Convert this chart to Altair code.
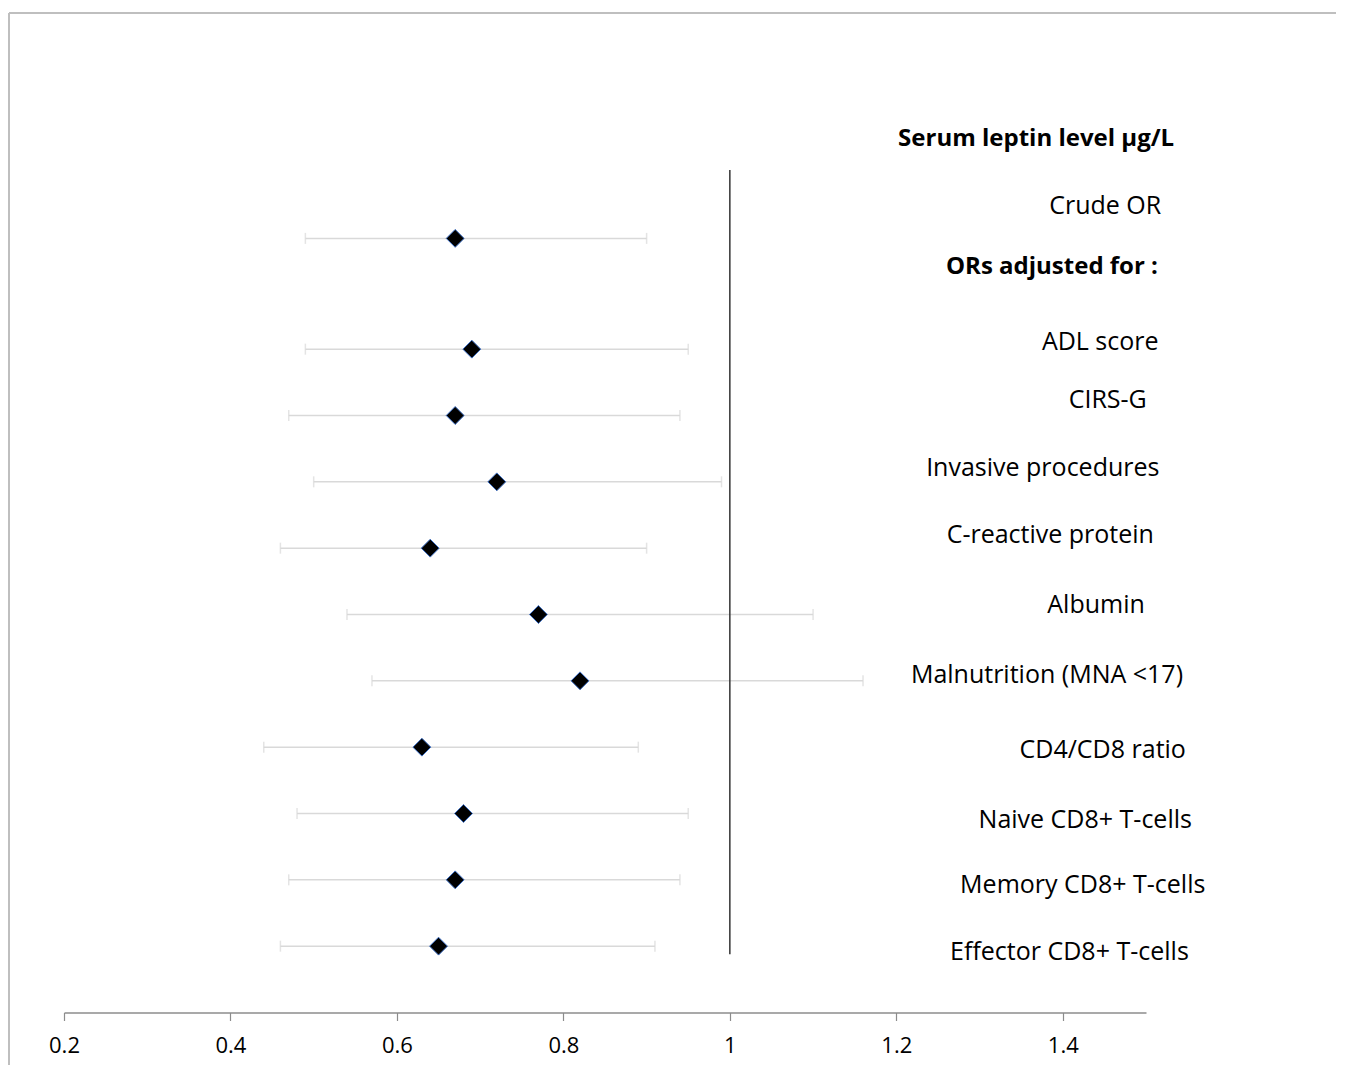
import altair as alt
import pandas as pd

# ---- data ----
rows = ["Crude OR", "ADL score", "CIRS-G", "Invasive procedures", "C-reactive protein",
        "Albumin", "Malnutrition (MNA <17)", "CD4/CD8 ratio", "Naive CD8+ T-cells",
        "Memory CD8+ T-cells", "Effector CD8+ T-cells"]
row_pos = [11.67, 10, 9, 8, 7, 6, 5, 4, 3, 2, 1]
odds = [0.67, 0.69, 0.67, 0.72, 0.64, 0.77, 0.82, 0.63, 0.68, 0.67, 0.65]
ci_low = [0.49, 0.49, 0.47, 0.50, 0.46, 0.54, 0.57, 0.44, 0.48, 0.47, 0.46]
ci_high = [0.90, 0.95, 0.94, 0.99, 0.90, 1.10, 1.16, 0.89, 0.95, 0.94, 0.91]

label_text = ["Serum leptin level µg/L", "Crude OR", "ORs adjusted for :", "ADL score", "CIRS-G",
              "Invasive procedures", "C-reactive protein", "Albumin", "Malnutrition (MNA <17)",
              "CD4/CD8 ratio", "Naive CD8+ T-cells", "Memory CD8+ T-cells", "Effector CD8+ T-cells"]
label_bold = [True, False, True, False, False, False, False, False, False, False, False, False, False]
label_x = [1.368, 1.451, 1.387, 1.445, 1.454, 1.376, 1.385, 1.440, 1.381, 1.448, 1.427, 1.424, 1.408]
label_y = [13.17, 12.16, 11.24, 10.11, 9.24, 8.21, 7.20, 6.14, 5.09, 3.96, 2.90, 1.92, 0.91]

ref_x = [1.0]
ref_y = [0.88]
ref_y2 = [12.7]

x_ticks = [0.2, 0.4, 0.6, 0.8, 1.0, 1.2, 1.4]

df = pd.DataFrame({"row": rows, "pos": row_pos, "or": odds, "lo": ci_low, "hi": ci_high})
lab = pd.DataFrame({"text": label_text, "bold": label_bold, "x": label_x, "y": label_y})
ref = pd.DataFrame({"x": ref_x, "y": ref_y, "y2": ref_y2})

FONT = "Open Sans"

xscale = alt.Scale(domain=[0.2, 1.5], nice=False, zero=False)
yscale = alt.Scale(domain=[0, 15], nice=False, zero=False)

xaxis = alt.Axis(values=x_ticks, title=None, grid=False, labelFont=FONT, labelFontSize=22,
                 labelColor="#000000", labelPadding=15, domainColor="#8c8c8c", domainWidth=1.5,
                 tickColor="#8c8c8c", tickSize=8, tickWidth=1.2, labelFlush=False,
                 labelExpr="datum.value == 1 ? '1' : format(datum.value, '.1f')")

base = alt.Chart(df)

bars = base.mark_rule(color="#d9d9d9", strokeWidth=1.5).encode(
    x=alt.X("lo:Q", scale=xscale, axis=xaxis),
    x2="hi:Q",
    y=alt.Y("pos:Q", scale=yscale, axis=None),
)
cap_lo = base.mark_tick(color="#d9d9d9", orient="vertical", size=11, thickness=1.5).encode(
    x=alt.X("lo:Q", scale=xscale), y=alt.Y("pos:Q", scale=yscale))
cap_hi = base.mark_tick(color="#d9d9d9", orient="vertical", size=11, thickness=1.5).encode(
    x=alt.X("hi:Q", scale=xscale), y=alt.Y("pos:Q", scale=yscale))

pts = base.mark_point(shape="diamond", filled=True, fill="#000000", stroke="#3d6fc4",
                      strokeWidth=1, size=320, opacity=1).encode(
    x=alt.X("or:Q", scale=xscale), y=alt.Y("pos:Q", scale=yscale))

refline = alt.Chart(ref).mark_rule(color="#333333", strokeWidth=1.5).encode(
    x=alt.X("x:Q", scale=xscale), y=alt.Y("y:Q", scale=yscale), y2="y2:Q")

labels_n = alt.Chart(lab).transform_filter("!datum.bold").mark_text(
    font=FONT, fontSize=25, color="#000000", align="center", baseline="middle").encode(
    x=alt.X("x:Q", scale=xscale), y=alt.Y("y:Q", scale=yscale), text="text:N")
labels_b = alt.Chart(lab).transform_filter("datum.bold").mark_text(
    font=FONT, fontSize=24, fontWeight="bold", color="#000000", align="center",
    baseline="middle").encode(
    x=alt.X("x:Q", scale=xscale), y=alt.Y("y:Q", scale=yscale), text="text:N")

frame_top = alt.Chart(df).mark_rule(color="#bfbfbf", strokeWidth=1.5).encode(
    x=alt.value(-55), x2=alt.value(1300), y=alt.value(-4.5))
frame_left = alt.Chart(df).mark_rule(color="#bfbfbf", strokeWidth=1.5).encode(
    x=alt.value(-55), y=alt.value(-4.5), y2=alt.value(1060))

chart = alt.layer(frame_top, frame_left, bars, cap_lo, cap_hi, refline, pts, labels_n, labels_b).properties(
    width=1082, height=995,
    padding={"left": 56, "top": 9.5, "right": 190, "bottom": 52},
    autosize=alt.AutoSizeParams(type="none"),
    background="#ffffff",
).configure_view(stroke=None, strokeWidth=0)

chart.save("out.html", embed_options={"renderer": "svg", "actions": False})
